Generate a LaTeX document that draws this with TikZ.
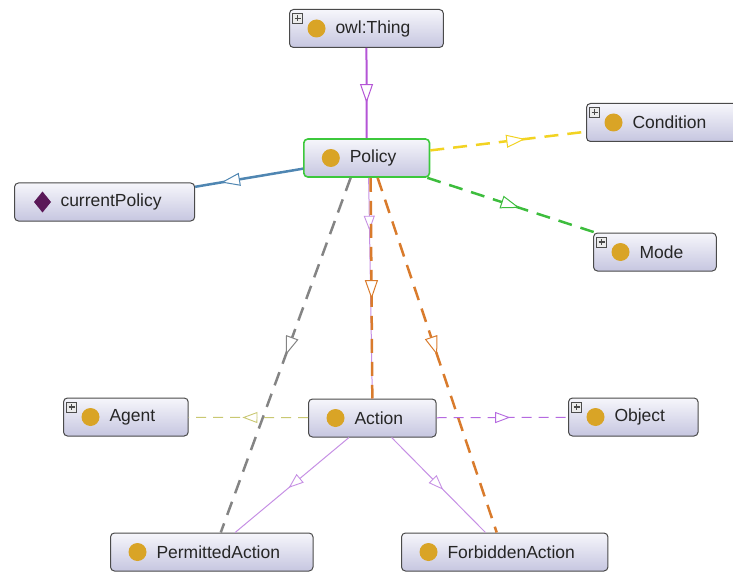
\documentclass[tikz,border=0pt]{standalone}
\usepackage{fontspec}
\setmainfont{Liberation Sans}
\usetikzlibrary{arrows.meta,decorations.markings}

\definecolor{boxtop}{HTML}{F6F6FB}
\definecolor{boxbot}{HTML}{C6C6E0}
\definecolor{boxline}{HTML}{4A4A4A}
\definecolor{classdot}{HTML}{D9A426}
\definecolor{propdiamond}{HTML}{5A1858}
\definecolor{policygreen}{HTML}{3CC83C}
\definecolor{isaviolet}{HTML}{B455D6}
\definecolor{thinviolet}{HTML}{C690E4}
\definecolor{condyellow}{HTML}{F2D322}
\definecolor{propblue}{HTML}{4F86B2}
\definecolor{modegreen}{HTML}{3DBD3D}
\definecolor{permgray}{HTML}{848484}
\definecolor{actorange}{HTML}{D97B2C}
\definecolor{agentolive}{HTML}{C9C872}
\definecolor{objviolet}{HTML}{B56AE0}

\newcommand{\boxfont}{\fontsize{17.5}{21}\selectfont}

\tikzset{
	owlclass/.style={draw=boxline, line width=1pt, rounded corners=4pt,
		top color=boxtop, bottom color=boxbot, anchor=west,
		minimum height=38pt, inner xsep=33pt, inner ysep=0pt,
		font=\boxfont, text=black!85,
		execute at begin node={\hspace*{13pt}},
		path picture={\fill[classdot] ([xshift=27pt]path picture bounding box.west) circle (9pt);}},
	% classes with the small expand box in the corner
	expandable/.style={owlclass, path picture={
		\fill[classdot] ([xshift=27pt]path picture bounding box.west) circle (9pt);
		\draw[sharp corners, line width=0.6pt, draw=black!70, fill=black!8]
			([xshift=3pt,yshift=-4pt]path picture bounding box.north west) rectangle +(10pt,-10pt);
		\draw[sharp corners, line width=1.1pt] ([xshift=5pt,yshift=-9pt]path picture bounding box.north west) -- +(6pt,0pt);
		\draw[sharp corners, line width=1.1pt] ([xshift=8pt,yshift=-6pt]path picture bounding box.north west) -- +(0pt,-6pt);}},
	% object property: diamond instead of the dot
	owlprop/.style={owlclass, path picture={
		\fill[propdiamond, sharp corners] ([xshift=28pt]path picture bounding box.west) +(0pt,10.5pt) -- +(8.5pt,0pt) -- +(0pt,-10.5pt) -- +(-8.5pt,0pt) -- cycle;}},
	thickdash/.style={line width=2.5pt, dash pattern=on 14pt off 9pt},
	thindash/.style={line width=1pt, dash pattern=on 10pt off 7pt},
	midtri/.style={postaction={decorate}, decoration={markings,
		mark=at position #1 with {\arrow{Triangle[length=19pt, width=13pt, fill=white, line width=1pt]}}}},
	midtrismall/.style={postaction={decorate}, decoration={markings,
		mark=at position #1 with {\arrow{Triangle[length=15pt, width=11pt, fill=white, line width=0.9pt]}}}},
}

\begin{document}
\begin{tikzpicture}[x=1pt, y=-1pt]
	\useasboundingbox (0,0) rectangle (733,572);

	\node[expandable] (thing) at (289,28.5) {owl:Thing};
	\node[owlclass, draw=policygreen, line width=1.6pt] (policy) at (303,158) {Policy};
	\node[owlprop] (curpol) at (14,202) {currentPolicy};
	\node[expandable] (condition) at (586,122.5) {Condition};
	\node[expandable] (mode) at (593,252) {Mode};
	\node[expandable] (agent) at (63,417) {Agent};
	\node[owlclass] (action) at (308,418) {Action};
	\node[expandable] (object) at (568,417) {Object};
	\node[owlclass] (permitted) at (110,552) {PermittedAction};
	\node[owlclass] (forbidden) at (401,552) {ForbiddenAction};

	% subclass links
	\draw[isaviolet, line width=2pt, midtri=0.61] (thing) -- (policy);
	\draw[thinviolet, line width=1pt, midtrismall=0.24] ([xshift=2pt]policy.south) -- (action.north);
	\draw[thinviolet, line width=1pt, midtrismall=0.53] (action) -- (permitted);
	\draw[thinviolet, line width=1pt, midtrismall=0.55] (action) -- (forbidden);

	% property links from Policy
	\draw[condyellow, thickdash, midtri=0.61] (policy) -- (condition);
	\draw[propblue, line width=2.5pt, midtri=0.76] (policy) -- (curpol);
	\draw[modegreen, thickdash, midtri=0.55] (policy) -- (mode);
	\draw[permgray, thickdash, midtri=0.5] ([xshift=-16pt]policy.south) -- ([xshift=9pt]permitted.north);
	\draw[actorange, thickdash, midtri=0.5] ([xshift=11pt]policy.south) -- ([xshift=-8pt]forbidden.north);
	\draw[actorange, thickdash, midtri=0.55] ([xshift=4pt]policy.south) -- (action.north);

	% property links from Action
	\draw[agentolive, thindash, midtrismall=0.55] (action) -- (agent);
	\draw[objviolet, thindash, midtrismall=0.56] (action) -- (object);
\end{tikzpicture}
\end{document}
